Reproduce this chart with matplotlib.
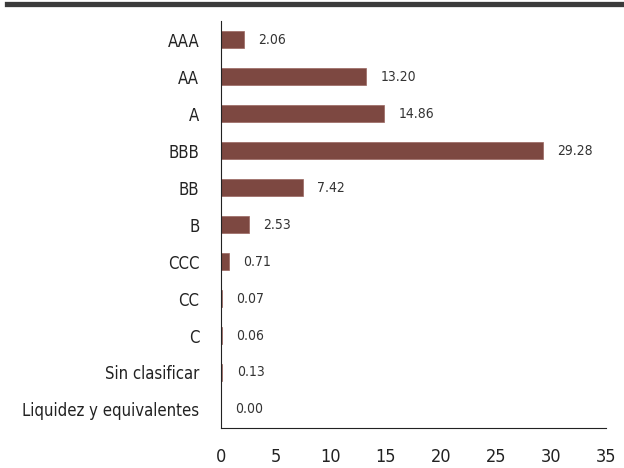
import matplotlib
matplotlib.use('Agg')
import matplotlib.pyplot as plt
from matplotlib.lines import Line2D

categorias = ['AAA', 'AA', 'A', 'BBB', 'BB', 'B', 'CCC', 'CC', 'C',
              'Sin clasificar', 'Liquidez y equivalentes']
valores = [2.06, 13.20, 14.86, 29.28, 7.42, 2.53, 0.71, 0.07, 0.06, 0.13, 0.00]
ticks_x = [0, 5, 10, 15, 20, 25, 30, 35]

plt.rcParams['font.family'] = ['DejaVu Sans']
plt.rcParams['font.stretch'] = 'condensed'

fig = plt.figure(figsize=(6.24, 4.68), dpi=100)
ax = fig.add_axes([0.354, 0.0855, 0.617, 0.8695])

pos = list(range(len(categorias)))
ax.barh(pos, valores, height=0.45, color='#7D4841', edgecolor='#9a6660', linewidth=0.5)
for p, v in zip(pos, valores):
    ax.annotate(f'{v:.2f}', (v, p), xytext=(10.5, 0), textcoords='offset points',
                va='center', ha='left', fontsize=10, color='#333333',
                fontstretch='condensed')

ax.set_yticks(pos)
ax.set_yticklabels(categorias, fontsize=12, color='#222222', fontstretch='condensed')
ax.set_ylim(len(categorias) - 0.5, -0.5)
ax.set_xlim(0, 35)
ax.set_xticks(ticks_x)
ax.set_xticklabels([str(t) for t in ticks_x], fontsize=13, color='#222222',
                   fontstretch='condensed')
ax.tick_params(length=0)
ax.tick_params(axis='x', pad=14.5)
ax.tick_params(axis='y', pad=15.5)
for s in ['top', 'right']:
    ax.spines[s].set_visible(False)
ax.spines['left'].set_color('#222222')
ax.spines['bottom'].set_color('#222222')

fig.add_artist(Line2D([0.012, 1.0], [0.9925, 0.9925], transform=fig.transFigure,
                      color='#3b3b3b', linewidth=3.8))

fig.savefig('out.png', dpi=100)
